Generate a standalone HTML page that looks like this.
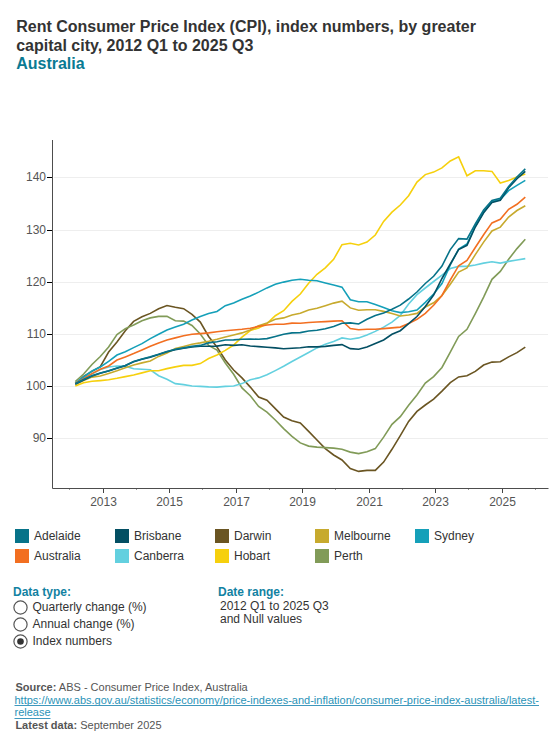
<!DOCTYPE html>
<html><head><meta charset="utf-8"><style>
html,body{margin:0;padding:0;background:#fff;width:560px;height:750px;overflow:hidden}
svg{position:absolute;left:0;top:0;display:block}
text{font-family:"Liberation Sans",sans-serif}
.t{font-size:16px;font-weight:bold;fill:#333}
.ts{font-size:16px;font-weight:bold;fill:#0a7a93}
.tl{font-size:12px;fill:#555}
.lg{font-size:12px;fill:#333}
.h{font-size:12px;font-weight:bold;fill:#1282a2}
.r{font-size:12px;fill:#333}
.s{font-size:11px;fill:#555}
.sb{font-size:11px;font-weight:bold;fill:#555}
.u{font-size:11px;fill:#2a93b8}
</style></head><body>
<svg width="560" height="750" viewBox="0 0 560 750">
<text x="16.2" y="32" class="t">Rent Consumer Price Index (CPI), index numbers, by greater</text>
<text x="16.2" y="50.8" class="t">capital city, 2012 Q1 to 2025 Q3</text>
<text x="16.2" y="68.5" class="ts">Australia</text>
<line x1="54" x2="548" y1="438.50" y2="438.50" stroke="#eeeeee" stroke-width="1"/><line x1="47" x2="53" y1="438.50" y2="438.50" stroke="#000" stroke-width="1"/><text x="46" y="441.50" text-anchor="end" class="tl">90</text><line x1="54" x2="548" y1="386.50" y2="386.50" stroke="#eeeeee" stroke-width="1"/><line x1="47" x2="53" y1="386.50" y2="386.50" stroke="#000" stroke-width="1"/><text x="46" y="389.50" text-anchor="end" class="tl">100</text><line x1="54" x2="548" y1="334.50" y2="334.50" stroke="#eeeeee" stroke-width="1"/><line x1="47" x2="53" y1="334.50" y2="334.50" stroke="#000" stroke-width="1"/><text x="46" y="337.50" text-anchor="end" class="tl">110</text><line x1="54" x2="548" y1="282.50" y2="282.50" stroke="#eeeeee" stroke-width="1"/><line x1="47" x2="53" y1="282.50" y2="282.50" stroke="#000" stroke-width="1"/><text x="46" y="285.50" text-anchor="end" class="tl">120</text><line x1="54" x2="548" y1="230.50" y2="230.50" stroke="#eeeeee" stroke-width="1"/><line x1="47" x2="53" y1="230.50" y2="230.50" stroke="#000" stroke-width="1"/><text x="46" y="233.50" text-anchor="end" class="tl">130</text><line x1="54" x2="548" y1="177.50" y2="177.50" stroke="#eeeeee" stroke-width="1"/><line x1="47" x2="53" y1="177.50" y2="177.50" stroke="#000" stroke-width="1"/><text x="46" y="180.50" text-anchor="end" class="tl">140</text><line x1="69.50" x2="69.50" y1="488" y2="490" stroke="#999" stroke-width="1"/><line x1="103.50" x2="103.50" y1="488" y2="493" stroke="#444" stroke-width="1"/><text x="103.50" y="506" text-anchor="middle" class="tl">2013</text><line x1="136.50" x2="136.50" y1="488" y2="490" stroke="#999" stroke-width="1"/><line x1="169.50" x2="169.50" y1="488" y2="493" stroke="#444" stroke-width="1"/><text x="169.50" y="506" text-anchor="middle" class="tl">2015</text><line x1="202.50" x2="202.50" y1="488" y2="490" stroke="#999" stroke-width="1"/><line x1="236.50" x2="236.50" y1="488" y2="493" stroke="#444" stroke-width="1"/><text x="236.50" y="506" text-anchor="middle" class="tl">2017</text><line x1="269.50" x2="269.50" y1="488" y2="490" stroke="#999" stroke-width="1"/><line x1="302.50" x2="302.50" y1="488" y2="493" stroke="#444" stroke-width="1"/><text x="302.50" y="506" text-anchor="middle" class="tl">2019</text><line x1="335.50" x2="335.50" y1="488" y2="490" stroke="#999" stroke-width="1"/><line x1="369.50" x2="369.50" y1="488" y2="493" stroke="#444" stroke-width="1"/><text x="369.50" y="506" text-anchor="middle" class="tl">2021</text><line x1="402.50" x2="402.50" y1="488" y2="490" stroke="#999" stroke-width="1"/><line x1="435.50" x2="435.50" y1="488" y2="493" stroke="#444" stroke-width="1"/><text x="435.50" y="506" text-anchor="middle" class="tl">2023</text><line x1="468.50" x2="468.50" y1="488" y2="490" stroke="#999" stroke-width="1"/><line x1="502.50" x2="502.50" y1="488" y2="493" stroke="#444" stroke-width="1"/><text x="502.50" y="506" text-anchor="middle" class="tl">2025</text><line x1="535.50" x2="535.50" y1="488" y2="490" stroke="#999" stroke-width="1"/><path d="M75.30,383.50 L83.63,376.40 L91.97,371.40 L100.30,366.70 L108.63,352.00 L116.97,342.00 L125.30,330.70 L133.63,321.40 L141.97,316.80 L150.30,313.40 L158.63,308.80 L166.97,305.50 L175.30,307.30 L183.63,308.70 L191.97,314.30 L200.30,322.10 L208.63,336.50 L216.97,347.00 L225.30,360.00 L233.63,370.00 L241.97,377.90 L250.30,387.10 L258.63,397.10 L266.97,400.30 L275.30,408.60 L283.63,417.10 L291.97,420.70 L300.30,422.90 L308.63,431.40 L316.97,440.00 L325.30,448.60 L333.63,455.00 L341.97,460.00 L350.30,468.60 L358.63,471.40 L366.97,470.40 L375.30,470.40 L383.63,462.10 L391.97,449.30 L400.30,435.70 L408.63,421.40 L416.97,411.40 L425.30,405.00 L433.63,399.10 L441.97,391.10 L450.30,382.70 L458.63,376.90 L466.97,375.70 L475.30,371.40 L483.63,365.00 L491.96,362.10 L500.30,361.70 L508.63,356.90 L516.96,352.60 L525.30,347.10" fill="none" stroke="#6a5522" stroke-width="1.6" stroke-linejoin="miter"/><path d="M75.30,381.70 L83.63,374.00 L91.97,364.50 L100.30,356.50 L108.63,347.00 L116.97,334.50 L125.30,328.60 L133.63,325.00 L141.97,320.70 L150.30,317.90 L158.63,316.40 L166.97,316.40 L175.30,320.70 L183.63,321.10 L191.97,325.50 L200.30,334.00 L208.63,345.50 L216.97,350.00 L225.30,363.00 L233.63,374.30 L241.97,387.90 L250.30,395.70 L258.63,406.40 L266.97,412.10 L275.30,420.00 L283.63,428.60 L291.97,436.40 L300.30,442.90 L308.63,446.10 L316.97,447.10 L325.30,447.60 L333.63,448.10 L341.97,449.30 L350.30,452.10 L358.63,453.60 L366.97,451.70 L375.30,448.60 L383.63,437.10 L391.97,424.30 L400.30,416.60 L408.63,405.30 L416.97,395.00 L425.30,383.00 L433.63,376.60 L441.97,367.50 L450.30,352.10 L458.63,336.40 L466.97,329.30 L475.30,313.60 L483.63,297.10 L491.96,279.30 L500.30,271.40 L508.63,259.30 L516.96,248.60 L525.30,239.30" fill="none" stroke="#819b58" stroke-width="1.6" stroke-linejoin="miter"/><path d="M75.30,383.50 L83.63,377.50 L91.97,374.00 L100.30,369.50 L108.63,367.00 L116.97,366.00 L125.30,366.20 L133.63,368.80 L141.97,369.30 L150.30,369.80 L158.63,375.70 L166.97,379.30 L175.30,383.60 L183.63,384.60 L191.97,386.00 L200.30,386.40 L208.63,386.90 L216.97,387.10 L225.30,386.40 L233.63,386.00 L241.97,383.60 L250.30,379.70 L258.63,377.90 L266.97,374.80 L275.30,370.60 L283.63,366.30 L291.97,361.50 L300.30,357.00 L308.63,352.50 L316.97,347.90 L325.30,344.30 L333.63,341.40 L341.97,337.90 L350.30,339.30 L358.63,337.90 L366.97,335.00 L375.30,331.40 L383.63,327.10 L391.97,322.10 L400.30,315.50 L408.63,304.00 L416.97,294.60 L425.30,288.00 L433.63,281.50 L441.97,275.20 L450.30,268.60 L458.63,266.40 L466.97,266.40 L475.30,265.00 L483.63,263.10 L491.96,261.70 L500.30,263.10 L508.63,261.40 L516.96,260.00 L525.30,258.60" fill="none" stroke="#63d0df" stroke-width="1.6" stroke-linejoin="miter"/><path d="M75.30,386.00 L83.63,382.70 L91.97,381.30 L100.30,380.60 L108.63,379.80 L116.97,378.30 L125.30,376.60 L133.63,375.00 L141.97,372.90 L150.30,370.70 L158.63,370.70 L166.97,368.60 L175.30,366.90 L183.63,365.40 L191.97,365.40 L200.30,363.60 L208.63,358.50 L216.97,355.00 L225.30,350.40 L233.63,345.00 L241.97,337.10 L250.30,330.50 L258.63,327.90 L266.97,323.60 L275.30,315.70 L283.63,310.70 L291.97,301.40 L300.30,294.00 L308.63,283.30 L316.97,274.30 L325.30,267.90 L333.63,259.30 L341.97,244.70 L350.30,243.30 L358.63,245.00 L366.97,242.10 L375.30,235.00 L383.63,221.40 L391.97,212.10 L400.30,205.00 L408.63,195.70 L416.97,182.10 L425.30,174.60 L433.63,172.10 L441.97,167.90 L450.30,161.00 L458.63,156.90 L466.97,175.80 L475.30,170.70 L483.63,170.70 L491.96,171.40 L500.30,183.00 L508.63,180.50 L516.96,177.00 L525.30,174.00" fill="none" stroke="#f6d00d" stroke-width="1.6" stroke-linejoin="miter"/><path d="M75.30,384.50 L83.63,380.50 L91.97,377.10 L100.30,376.00 L108.63,373.50 L116.97,370.80 L125.30,367.70 L133.63,365.00 L141.97,362.90 L150.30,361.00 L158.63,356.40 L166.97,352.90 L175.30,348.60 L183.63,346.40 L191.97,344.30 L200.30,342.90 L208.63,341.20 L216.97,339.30 L225.30,337.10 L233.63,335.00 L241.97,332.90 L250.30,330.00 L258.63,325.70 L266.97,322.90 L275.30,319.30 L283.63,317.90 L291.97,315.00 L300.30,313.30 L308.63,310.00 L316.97,308.30 L325.30,305.70 L333.63,303.10 L341.97,301.10 L350.30,307.90 L358.63,310.30 L366.97,309.70 L375.30,309.70 L383.63,311.40 L391.97,313.60 L400.30,316.00 L408.63,315.00 L416.97,313.40 L425.30,307.00 L433.63,302.80 L441.97,295.50 L450.30,284.30 L458.63,272.10 L466.97,267.90 L475.30,254.60 L483.63,242.10 L491.96,231.00 L500.30,227.10 L508.63,217.10 L516.96,210.50 L525.30,205.70" fill="none" stroke="#c7aa2e" stroke-width="1.6" stroke-linejoin="miter"/><path d="M75.30,383.50 L83.63,377.00 L91.97,371.00 L100.30,367.00 L108.63,361.40 L116.97,355.00 L125.30,351.70 L133.63,347.60 L141.97,343.60 L150.30,338.60 L158.63,334.30 L166.97,330.00 L175.30,327.10 L183.63,324.30 L191.97,320.00 L200.30,316.40 L208.63,313.60 L216.97,311.40 L225.30,305.70 L233.63,302.90 L241.97,299.30 L250.30,296.00 L258.63,292.10 L266.97,287.90 L275.30,284.30 L283.63,282.10 L291.97,280.30 L300.30,279.30 L308.63,280.30 L316.97,280.70 L325.30,282.90 L333.63,285.00 L341.97,287.10 L350.30,299.70 L358.63,301.70 L366.97,301.70 L375.30,304.50 L383.63,307.40 L391.97,310.70 L400.30,312.60 L408.63,311.80 L416.97,310.00 L425.30,302.30 L433.63,294.00 L441.97,283.60 L450.30,265.00 L458.63,249.00 L466.97,244.00 L475.30,226.00 L483.63,212.00 L491.96,201.70 L500.30,199.50 L508.63,190.70 L516.96,185.40 L525.30,180.40" fill="none" stroke="#15a0b9" stroke-width="1.6" stroke-linejoin="miter"/><path d="M75.30,383.50 L83.63,378.60 L91.97,373.60 L100.30,369.30 L108.63,366.00 L116.97,360.00 L125.30,356.90 L133.63,353.60 L141.97,350.00 L150.30,346.20 L158.63,342.90 L166.97,340.00 L175.30,337.90 L183.63,335.70 L191.97,334.30 L200.30,333.60 L208.63,332.90 L216.97,331.80 L225.30,330.70 L233.63,330.00 L241.97,329.30 L250.30,328.20 L258.63,326.40 L266.97,325.00 L275.30,324.30 L283.63,324.30 L291.97,323.10 L300.30,323.20 L308.63,322.50 L316.97,322.00 L325.30,321.60 L333.63,321.10 L341.97,320.70 L350.30,328.60 L358.63,329.70 L366.97,329.30 L375.30,329.30 L383.63,328.60 L391.97,327.90 L400.30,327.10 L408.63,323.60 L416.97,319.30 L425.30,313.30 L433.63,305.30 L441.97,295.50 L450.30,280.00 L458.63,265.70 L466.97,260.40 L475.30,247.50 L483.63,234.70 L491.96,222.90 L500.30,219.30 L508.63,209.30 L516.96,204.30 L525.30,197.10" fill="none" stroke="#f26f21" stroke-width="1.6" stroke-linejoin="miter"/><path d="M75.30,384.00 L83.63,380.00 L91.97,376.00 L100.30,373.30 L108.63,371.00 L116.97,368.30 L125.30,365.80 L133.63,361.80 L141.97,359.20 L150.30,357.30 L158.63,354.60 L166.97,351.80 L175.30,349.70 L183.63,348.20 L191.97,347.00 L200.30,346.20 L208.63,346.30 L216.97,346.10 L225.30,344.80 L233.63,345.40 L241.97,344.80 L250.30,346.00 L258.63,346.60 L266.97,347.20 L275.30,347.90 L283.63,348.80 L291.97,348.30 L300.30,347.70 L308.63,346.80 L316.97,346.90 L325.30,346.40 L333.63,345.40 L341.97,344.60 L350.30,348.60 L358.63,349.30 L366.97,347.10 L375.30,343.50 L383.63,340.00 L391.97,334.30 L400.30,330.70 L408.63,323.60 L416.97,316.50 L425.30,306.50 L433.63,295.00 L441.97,278.50 L450.30,264.00 L458.63,249.60 L466.97,245.30 L475.30,227.00 L483.63,212.80 L491.96,202.40 L500.30,200.20 L508.63,187.80 L516.96,178.70 L525.30,171.40" fill="none" stroke="#034f63" stroke-width="1.6" stroke-linejoin="miter"/><path d="M75.30,383.80 L83.63,379.50 L91.97,375.70 L100.30,373.00 L108.63,370.70 L116.97,368.00 L125.30,365.50 L133.63,361.40 L141.97,358.90 L150.30,356.80 L158.63,354.30 L166.97,351.40 L175.30,349.30 L183.63,347.90 L191.97,346.40 L200.30,345.40 L208.63,342.90 L216.97,341.80 L225.30,340.00 L233.63,339.90 L241.97,339.30 L250.30,339.00 L258.63,339.30 L266.97,338.60 L275.30,336.40 L283.63,334.30 L291.97,332.90 L300.30,332.60 L308.63,331.00 L316.97,330.30 L325.30,328.80 L333.63,326.40 L341.97,323.30 L350.30,322.90 L358.63,324.00 L366.97,319.30 L375.30,315.50 L383.63,312.90 L391.97,309.30 L400.30,305.10 L408.63,299.00 L416.97,292.00 L425.30,283.50 L433.63,276.30 L441.97,266.00 L450.30,249.60 L458.63,238.60 L466.97,239.10 L475.30,224.00 L483.63,210.00 L491.96,200.50 L500.30,198.30 L508.63,186.50 L516.96,177.00 L525.30,168.90" fill="none" stroke="#077389" stroke-width="1.6" stroke-linejoin="miter"/><path d="M52.5,140 V488.5 H548.5" fill="none" stroke="#4d4d4d" stroke-width="1"/>
<rect x="15" y="529" width="14" height="14" fill="#077389"/><text x="34" y="540" class="lg">Adelaide</text><rect x="115" y="529" width="14" height="14" fill="#034f63"/><text x="134" y="540" class="lg">Brisbane</text><rect x="215" y="529" width="14" height="14" fill="#6a5522"/><text x="234" y="540" class="lg">Darwin</text><rect x="315" y="529" width="14" height="14" fill="#c7aa2e"/><text x="334" y="540" class="lg">Melbourne</text><rect x="415" y="529" width="14" height="14" fill="#15a0b9"/><text x="434" y="540" class="lg">Sydney</text><rect x="15" y="549" width="14" height="14" fill="#f26f21"/><text x="34" y="560" class="lg">Australia</text><rect x="115" y="549" width="14" height="14" fill="#63d0df"/><text x="134" y="560" class="lg">Canberra</text><rect x="215" y="549" width="14" height="14" fill="#f6d00d"/><text x="234" y="560" class="lg">Hobart</text><rect x="315" y="549" width="14" height="14" fill="#819b58"/><text x="334" y="560" class="lg">Perth</text>
<text x="13" y="596.4" class="h">Data type:</text>
<circle cx="20.5" cy="607.5" r="6.6" fill="#fff" stroke="#555" stroke-width="1.2"/>
<circle cx="20.5" cy="624.5" r="6.6" fill="#fff" stroke="#555" stroke-width="1.2"/>
<circle cx="20.5" cy="641.5" r="6.6" fill="#fff" stroke="#555" stroke-width="1.2"/>
<circle cx="20.5" cy="641.5" r="3.3" fill="#333"/>
<text x="32.5" y="611.3" class="r">Quarterly change (%)</text>
<text x="32.5" y="628.3" class="r">Annual change (%)</text>
<text x="32.5" y="645.3" class="r">Index numbers</text>
<text x="218" y="596" class="h">Date range:</text>
<text x="220" y="609.5" class="r">2012 Q1 to 2025 Q3</text>
<text x="220" y="623.3" class="r">and Null values</text>
<text x="15.4" y="691" class="s"><tspan class="sb">Source:</tspan> ABS - Consumer Price Index, Australia</text>
<text x="14.5" y="703.6" class="u">https://www.abs.gov.au/statistics/economy/price-indexes-and-inflation/consumer-price-index-australia/latest-</text>
<line x1="14.5" x2="539" y1="705.5" y2="705.5" stroke="#3f98bd" stroke-width="1"/>
<text x="14.5" y="716.2" class="u">release</text>
<line x1="14.5" x2="50.5" y1="718.5" y2="718.5" stroke="#3f98bd" stroke-width="1"/>
<text x="15.4" y="728.8" class="s"><tspan class="sb">Latest data:</tspan> September 2025</text>
</svg>
</body></html>
